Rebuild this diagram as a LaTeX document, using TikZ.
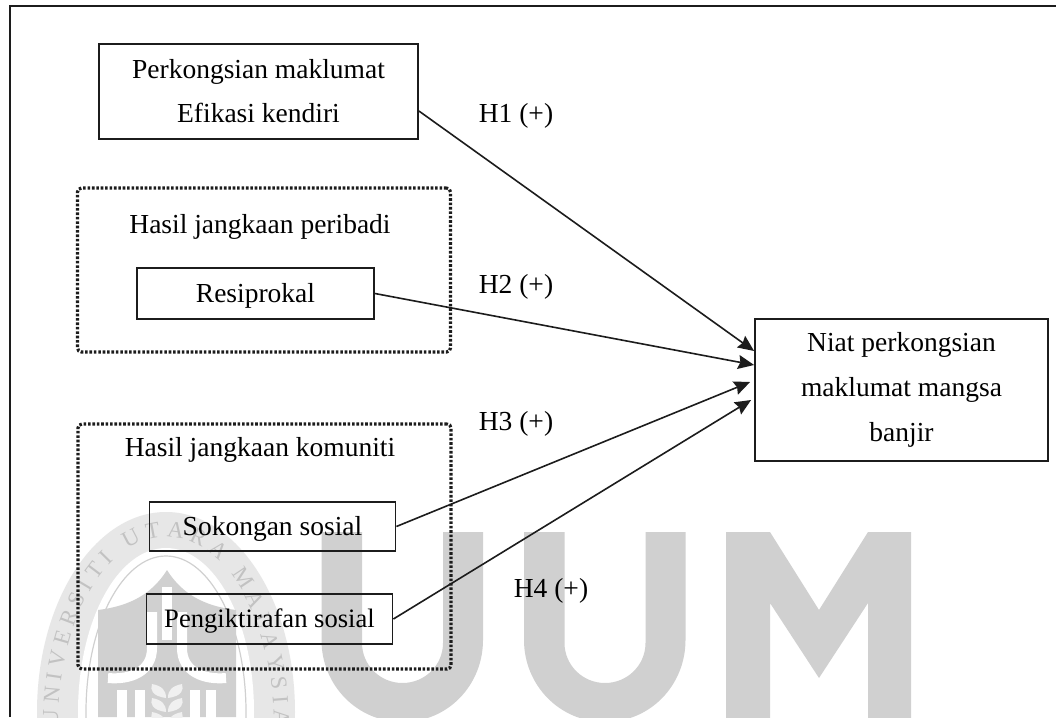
\documentclass[tikz,border=0pt]{standalone}
\usepackage{fontspec}
\setmainfont{Liberation Serif}
\usepackage{xcolor}
\usetikzlibrary{arrows.meta,decorations.text}
\definecolor{ramka}{HTML}{1C1C1C}
\definecolor{znakwodny}{HTML}{D0D0D0}
\definecolor{pierscien}{HTML}{E7E7E7}
\definecolor{litera}{HTML}{C2C2C2}
\tikzset{
  pudelko/.style={draw=ramka,line width=1.8pt,rectangle,align=center,inner sep=0pt,
    font=\fontsize{27.5}{44}\selectfont,text=black},
  linia/.style={text height=23pt,text depth=6pt},
  kropki/.style={draw=ramka,line width=3.2pt,rectangle,rounded corners=4pt,
    dash pattern=on 2.6pt off 1.8pt},
  napis/.style={font=\fontsize{27.5}{44}\selectfont,text=black,inner sep=0pt,linia},
  strzalka/.style={draw=ramka,line width=1.6pt,-{Stealth[length=16pt,width=14pt,inset=2pt]}},
  liscie/.style={fill=white!94!black,draw=none}
}
\begin{document}
\begin{tikzpicture}[x=1pt,y=-1pt]
\useasboundingbox (0,0) rectangle (1056,717);
\fill[white] (0,0) rectangle (1056,717);
\begin{scope}
\clip (0,0) rectangle (1056,717);
\fill[pierscien] (166,712) ellipse [x radius=129,y radius=200];
\fill[white] (166,712) ellipse [x radius=88,y radius=164];
\draw[znakwodny,line width=1.2pt] (166,712) ellipse [x radius=80,y radius=156];
\path[decorate,decoration={text along path,text align={fit to path},
  text={|\fontsize{23}{23}\selectfont\color{litera}|UNIVERSITI UTARA MALAYSIA}}]
  (58,726) .. controls (58,620) and (106,537) .. (166,537) .. controls (226,537) and (274,620) .. (274,726);
\fill[znakwodny] (98,717) -- (98,610) .. controls (130,606) and (152,594) .. (167,570)
  .. controls (182,594) and (204,606) .. (236,610) -- (236,717) -- cycle;
\fill[white] (162,587) rectangle (172,640);
\draw[white,line width=10pt] (152,612) -- (152,648) .. controls (152,672) and (130,680) .. (108,678);
\draw[white,line width=10pt] (182,612) -- (182,648) .. controls (182,672) and (204,680) .. (226,678);
\foreach \slup in {117,135,190,206}
  \fill[white] (\slup,690) rectangle ++(10,30);
\foreach \dy in {0,14,28} {
  \fill[liscie] (166,698+\dy) .. controls (152,696+\dy) and (150,690+\dy) .. (152,684+\dy)
    .. controls (162,686+\dy) and (166,690+\dy) .. (166,698+\dy);
  \fill[liscie] (168,698+\dy) .. controls (182,696+\dy) and (184,690+\dy) .. (182,684+\dy)
    .. controls (172,686+\dy) and (168,690+\dy) .. (168,698+\dy);
}
\foreach \ux in {0,202.5}
  \fill[znakwodny] (321.5+\ux,532) -- (321.5+\ux,640) .. controls (321.5+\ux,685) and (357+\ux,722) .. (402.5+\ux,722)
    .. controls (448+\ux,722) and (483+\ux,685) .. (483+\ux,640) -- (483+\ux,532) -- (443+\ux,532) -- (443+\ux,643)
    .. controls (443+\ux,665) and (425+\ux,683) .. (402.5+\ux,683) .. controls (380+\ux,683) and (362+\ux,665) .. (362+\ux,643)
    -- (362+\ux,532) -- cycle;
\fill[znakwodny] (726,720) -- (726,532) -- (770,532) -- (819,610) -- (868,532) -- (911,532) -- (911,720)
  -- (868,720) -- (868,603) -- (819,678) -- (770,603) -- (770,720) -- cycle;
\end{scope}
\coordinate (ramkadol) at (10,717);
\coordinate (ramkarog) at (10,6);
\coordinate (ramkaprawo) at (1056,6);
\draw[ramka,line width=2pt] (ramkadol) -- (ramkarog) -- (ramkaprawo);
\node[pudelko,minimum width=319pt,minimum height=95pt] (maklumat) at (258.5,91.5) {Perkongsian maklumat\\Efikasi kendiri};
\node[kropki,minimum width=373pt,minimum height=164pt] (peribadi) at (264,270) {};
\node[napis] (tytulperibadi) at (260,225) {Hasil jangkaan peribadi};
\node[pudelko,linia,minimum width=237pt,minimum height=51pt] (resiprokal) at (255.5,293.5) {Resiprokal};
\node[kropki,minimum width=373pt,minimum height=245pt] (komuniti) at (264.5,546.5) {};
\node[napis] (tytulkomuniti) at (260,448) {Hasil jangkaan komuniti};
\node[pudelko,linia,minimum width=246pt,minimum height=49pt] (sokongan) at (272.5,526.5) {Sokongan sosial};
\node[pudelko,linia,minimum width=246pt,minimum height=50pt,font=\fontsize{26.6}{44}\selectfont] (pengiktirafan) at (269.5,619) {Pengiktirafan sosial};
\node[pudelko,minimum width=293pt,minimum height=142pt,font=\fontsize{27.5}{45}\selectfont] (niat) at (901.5,390) {Niat perkongsian\\maklumat mangsa\\banjir};
\node[napis] (h1) at (516,114) {H1 (+)};
\node[napis] (h2) at (516,285) {H2 (+)};
\node[napis] (h3) at (516,422) {H3 (+)};
\node[napis] (h4) at (551,589) {H4 (+)};
\draw[strzalka] ([yshift=-19.5pt]maklumat.east) -- ([yshift=39pt]niat.west);
\draw[strzalka] (resiprokal.east) -- ([yshift=25pt]niat.west);
\draw[strzalka] (sokongan.east) -- ([xshift=-4pt,yshift=8pt]niat.west);
\draw[strzalka] (pengiktirafan.east) -- ([xshift=-3pt,yshift=-10pt]niat.west);
\end{tikzpicture}
\end{document}
